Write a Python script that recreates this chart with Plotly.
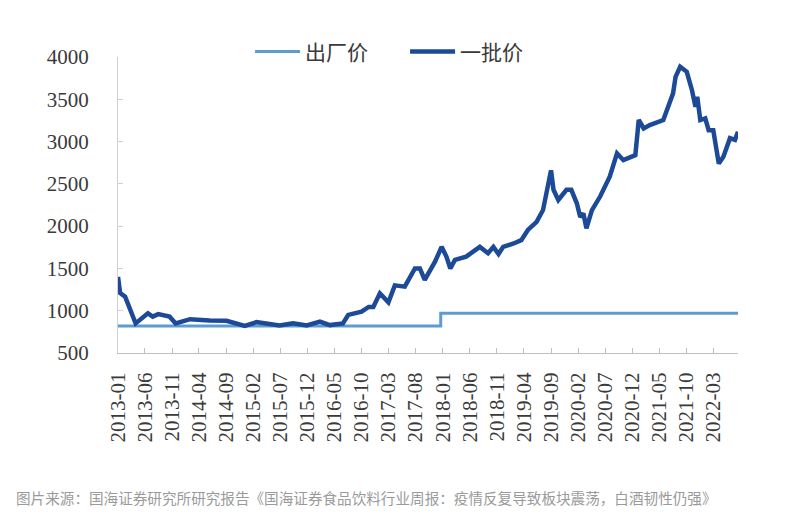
import plotly.graph_objects as go

# 出厂价 (ex-factory price) – step series
factory_dates = ["2013-01-01", "2017-12-20", "2022-07-18"]
factory_vals = [819, 969, 969]

# 一批价 (wholesale price)
wholesale_dates = [
    "2013-01-01", "2013-01-13", "2013-02-10", "2013-04-10", "2013-06-18", "2013-07-15",
    "2013-08-15", "2013-10-18", "2013-11-21", "2014-02-10", "2014-06-01", "2014-09-03",
    "2014-12-15", "2015-02-18", "2015-06-28", "2015-09-12", "2015-11-28", "2016-02-10",
    "2016-04-06", "2016-06-18", "2016-07-18", "2016-10-01", "2016-11-10", "2016-12-06",
    "2017-01-12", "2017-03-01", "2017-04-06", "2017-06-01", "2017-07-28", "2017-08-25",
    "2017-09-21", "2017-11-18", "2017-12-25", "2018-01-21", "2018-02-12", "2018-03-10",
    "2018-05-12", "2018-07-28", "2018-09-12", "2018-10-12", "2018-11-10", "2018-12-06",
    "2019-02-03", "2019-03-18", "2019-04-24", "2019-06-12", "2019-07-18", "2019-08-15",
    "2019-09-01", "2019-09-15", "2019-10-12", "2019-11-27", "2019-12-24", "2020-01-24",
    "2020-02-12", "2020-03-01", "2020-03-18", "2020-04-18", "2020-06-03", "2020-07-27",
    "2020-09-06", "2020-10-12", "2020-12-18", "2021-01-06", "2021-02-03", "2021-03-09",
    "2021-05-24", "2021-07-18", "2021-08-01", "2021-08-27", "2021-10-03", "2021-11-01",
    "2021-11-21", "2021-12-01", "2021-12-18", "2022-01-15", "2022-02-03", "2022-03-01",
    "2022-04-01", "2022-04-27", "2022-06-03", "2022-07-01", "2022-07-18",
]
wholesale_vals = [
    1400, 1210, 1165, 850, 970, 930,
    960, 930, 850, 900, 885, 880,
    820, 865, 825, 850, 825, 870,
    830, 850, 950, 990, 1045, 1045,
    1205, 1100, 1300, 1285, 1500, 1500,
    1365, 1580, 1755, 1640, 1500, 1600,
    1640, 1755, 1680, 1755, 1670, 1755,
    1795, 1835, 1955, 2050, 2190, 2465,
    2660, 2430, 2310, 2430, 2430, 2270,
    2110, 2150, 1975, 2190, 2350, 2585,
    2860, 2780, 2840, 3255, 3155, 3195,
    3255, 3570, 3765, 3885, 3825, 3610,
    3410, 3530, 3255, 3275, 3135, 3135,
    2740, 2820, 3040, 3020, 3115,
]

y_ticks = [500, 1000, 1500, 2000, 2500, 3000, 3500, 4000]
source_text = "图片来源：国海证券研究所研究报告《国海证券食品饮料行业周报：疫情反复导致板块震荡，白酒韧性仍强》"

fig = go.Figure()
fig.add_trace(go.Scatter(
    x=factory_dates, y=factory_vals, name="出厂价", mode="lines",
    line=dict(color="#5E9BD3", width=3, shape="hv"),
))
fig.add_trace(go.Scatter(
    x=wholesale_dates, y=wholesale_vals, name="一批价", mode="lines",
    line=dict(color="#1C4A96", width=4.5),
))

tick_font = dict(family="Liberation Serif, Times New Roman, serif", size=21, color="#3a3a3a")

fig.update_layout(
    width=791, height=528,
    margin=dict(l=118, r=53, t=57, b=175),
    paper_bgcolor="white", plot_bgcolor="white",
    showlegend=True,
    legend=dict(
        orientation="h", x=0.213, xanchor="left", y=1.017, yanchor="middle",
        font=dict(family="Noto Sans CJK SC", size=21, color="#3a3a3a"),
        itemwidth=45, entrywidth=95, entrywidthmode="pixels",
        bgcolor="rgba(0,0,0,0)",
    ),
    xaxis=dict(
        type="date", range=["2013-01-01", "2022-07-18"],
        tick0="2013-01-01", dtick="M5", tickformat="%Y-%m",
        tickangle=-90, tickfont=tick_font,
        showgrid=False, zeroline=False,
        showline=True, linecolor="#BFBFBF", linewidth=1,
        ticks="inside", ticklen=5, tickcolor="#BFBFBF",
        ticklabelstandoff=10,
    ),
    yaxis=dict(
        range=[500, 4000], tickvals=y_ticks, tickfont=tick_font,
        showgrid=False, zeroline=False,
        showline=True, linecolor="#D0D0D0", linewidth=1,
        ticks="inside", ticklen=5, tickcolor="#D0D0D0",
        ticklabelstandoff=24,
    ),
    annotations=[dict(
        text=source_text, xref="paper", yref="paper",
        x=(14 - 118) / 620, y=(353 - 497) / 296, xanchor="left", yanchor="middle",
        showarrow=False, font=dict(family="Noto Sans CJK SC", size=14.6, color="#9a9a9a"),
    )],
)

fig.write_html("out.html")
